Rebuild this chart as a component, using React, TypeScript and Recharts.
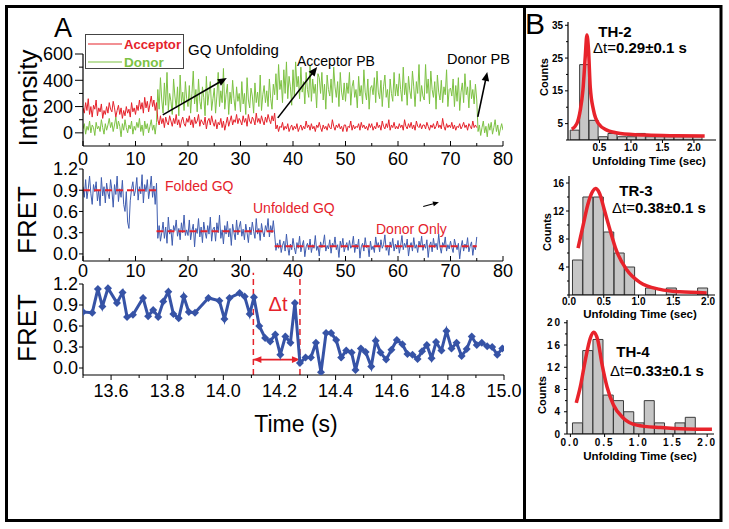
import React from 'react';
import { ComposedChart, Line, Bar, XAxis, YAxis, ReferenceLine } from 'recharts';

// ---------- panel A: raw traces (one sample every 0.25 s) ----------
const SAMPLE_DT = 0.25;

const acceptor = [
  190, 150, 230, 170, 260, 140, 200, 120, 210, 180, 250, 130, 190, 160, 220, 110, 170, 140, 200, 150,
  230, 180, 160, 240, 190, 120, 170, 210, 140, 190, 110, 170, 130, 200, 150, 180, 120, 230, 160, 190,
  140, 210, 170, 250, 180, 230, 150, 270, 190, 240, 160, 220, 280, 200, 250, 170, 230, 100, 60, 130,
  70, 110, 40, 120, 80, 60, 130, 90, 50, 110, 70, 140, 60, 100, 40, 90, 120, 70, 50, 110,
  80, 130, 60, 100, 40, 120, 70, 90, 140, 50, 100, 80, 60, 120, 30, 90, 110, 60, 130, 80,
  50, 100, 30, 80, 60, 110, 40, 90, 20, 70, 120, 50, 90, 130, 60, 100, 80, 140, 70, 110,
  90, 60, 130, 80, 110, 50, 140, 90, 70, 120, 100, 60, 150, 80, 110, 70, 130, 90, 60, 120,
  80, 140, 100, 70, 130, 90, 150, 30, 60, 10, 50, 40, 80, 20, 50, 30, 70, 10, 40, 60,
  20, 50, 30, 70, 10, 40, 60, 20, 50, 30, 90, 40, 60, 20, 70, 30, 50, 10, 60, 40,
  80, 40, 10, 60, 30, 50, 20, 70, 40, 30, 100, 50, 20, 60, 40, 70, 30, 50, 10, 60,
  60, 10, 50, 40, 90, 20, 60, 30, 50, 40, 70, 20, 80, 40, 60, 30, 50, 20, 70, 40,
  70, 20, 50, 30, 80, 40, 60, 20, 90, 50, 30, 70, 40, 100, 20, 60, 40, 80, 30, 50,
  30, 70, 40, 60, 20, 100, 50, 30, 70, 40, 80, 30, 60, 20, 90, 50, 40, 70, 30, 60,
  60, 30, 80, 50, 20, 60, 40, 70, 30, 50, 90, 40, 60, 30, 110, 50, 20, 70, 40, 60,
  40, 80, 30, 60, 20, 50, 40, 70, 30, 50, 80, 40, 60, 20, 70, 50, 30, 90, 40, 60,
  40,
];

const donor = [
  30, 70, -10, 50, 20, 90, 0, 60, 40, -20, 80, 30, 50, 10, 100, 40, -10, 70, 20, 60,
  110, 40, 80, 10, 60, 120, 30, 90, 50, -30, 70, 20, 100, 40, 0, 60, 30, 90, -10, 50,
  20, 80, 40, 110, 10, 60, -20, 90, 30, 70, 0, 50, 100, 20, 60, -10, 80, 330, 180, 420,
  250, 150, 380, 210, 460, 170, 300, 240, 140, 410, 280, 190, 350, 130, 440, 230, 310, 170, 390, 260,
  200, 360, 150, 300, 470, 220, 330, 160, 410, 240, 180, 350, 270, 130, 430, 210, 300, 390, 170, 260,
  340, 150, 280, 460, 200, 320, 230, 490, 180, 290, 370, 140, 310, 220, 400, 260, 170, 350, 240, 300,
  160, 390, 220, 300, 140, 420, 250, 190, 340, 280, 150, 380, 230, 310, 200, 440, 170, 290, 360, 230,
  320, 200, 410, 260, 180, 370, 290, 450, 250, 520, 330, 400, 230, 480, 300, 540, 260, 430, 350, 210,
  480, 280, 540, 350, 430, 260, 500, 310, 390, 220, 460, 330, 270, 510, 240, 410, 300, 370, 190, 450,
  420, 300, 460, 250, 370, 180, 440, 330, 280, 410, 230, 500, 350, 270, 390, 200, 460, 310, 250, 380,
  240, 380, 300, 460, 210, 350, 400, 270, 330, 190, 430, 280, 360, 220, 480, 310, 250, 410, 180, 340,
  360, 290, 420, 230, 470, 310, 260, 400, 200, 350, 440, 270, 330, 190, 410, 300, 240, 460, 280, 370,
  280, 450, 330, 240, 500, 290, 380, 210, 430, 320, 260, 470, 350, 200, 390, 300, 520, 240, 360, 280,
  250, 520, 300, 410, 220, 470, 330, 270, 390, 180, 440, 310, 250, 400, 230, 350, 290, 480, 200, 330,
  340, 280, 410, 200, 360, 240, 420, 170, 310, 380, 230, 450, 290, 350, 190, 400, 260, 330, 220, 370,
  250, 10, 60, -20, 40, 90, 0, 50, -30, 70, 20, 80, -10, 40, 100, 10, 60, -20, 30, 70,
  20,
];

const fretTrace = [
  0.95, 0.8, 1.05, 0.78, 0.92, 1.1, 0.85, 0.7, 0.98, 0.88, 1.02, 0.75, 0.9, 0.68, 1.08, 0.82, 0.95, 0.72, 1.0, 0.86,
  0.78, 1.05, 0.9, 0.66, 0.98, 0.84, 1.1, 0.74, 0.92, 0.8, 1.04, 0.7, 0.6, 0.88, 0.45, 0.36, 0.75, 0.92, 1.02, 0.82,
  0.9, 1.08, 0.76, 0.95, 0.85, 1.12, 0.72, 0.98, 0.88, 1.05, 0.78, 0.92, 1.1, 0.8, 0.96, 0.7, 1.0, 0.22, 0.4, 0.18,
  0.3, 0.45, 0.22, 0.38, 0.15, 0.52, 0.28, 0.35, 0.12, 0.4, 0.33, 0.48, 0.25, 0.36, 0.2, 0.44, 0.3, 0.55, 0.26, 0.34,
  0.26, 0.48, 0.2, 0.33, 0.42, 0.1, 0.36, 0.29, 0.5, 0.24, 0.38, 0.16, 0.45, 0.31, 0.22, 0.4, 0.28, 0.52, 0.18, 0.35,
  0.38, 0.18, 0.44, 0.3, 0.55, 0.22, 0.34, 0.14, 0.4, 0.28, 0.46, 0.24, 0.36, 0.12, 0.42, 0.3, 0.2, 0.48, 0.27, 0.38,
  0.46, 0.25, 0.35, 0.2, 0.42, 0.3, 0.16, 0.38, 0.27, 0.45, 0.32, 0.22, 0.5, 0.28, 0.36, 0.19, 0.43, 0.31, 0.24, 0.4,
  0.33, 0.5, 0.24, 0.4, 0.3, 0.47, 0.28, 0.05, 0.15, 0.08, 0.2, 0.02, 0.12, 0.18, 0.04, 0.28, 0.1, -0.02, 0.14, 0.06,
  0.22, 0.09, 0.0, 0.16, 0.08, 0.25, 0.03, 0.12, 0.19, -0.04, 0.1, 0.15, 0.06, 0.21, 0.02, 0.13, 0.08, 0.26, 0.05, 0.11,
  -0.03, 0.17, 0.09, 0.14, 0.27, 0.04, 0.12, 0.07, 0.2, 0.01, 0.15, 0.1, 0.24, 0.06, 0.13, -0.05, 0.18, 0.09, 0.22, 0.03,
  0.11, 0.16, 0.05, 0.19, 0.08, 0.12, 0.25, 0.02, 0.14, 0.07, 0.21, -0.06, 0.1, 0.15, 0.04, 0.23, 0.09, 0.12, -0.04, 0.18,
  0.06, 0.11, 0.02, 0.24, 0.1, 0.16, 0.03, 0.2, 0.08, 0.13, 0.27, 0.05, 0.12, -0.02, 0.17, 0.09, 0.22, 0.04, 0.14, 0.07,
  0.19, 0.01, 0.12, 0.26, 0.06, 0.15, 0.09, 0.21, -0.03, 0.11, 0.16, 0.04, 0.23, 0.08, 0.13, 0.02, 0.18, 0.1, 0.25, 0.05,
  0.14, 0.08, 0.2, -0.05, 0.12, 0.17, 0.03, 0.22, 0.09, 0.15, 0.06, 0.28, 0.1, 0.01, 0.16, 0.11, 0.24, 0.04, 0.13, 0.07,
  0.18, 0.09, 0.02, 0.21, 0.12, 0.06, 0.15, -0.07, 0.1, 0.19, 0.04, 0.14, 0.08, 0.23, 0.03, 0.11, 0.17, -0.02, 0.12, 0.06,
  0.24,
];

// fitted FRET levels (dashed red)
const levelStart = [0, 14, 36.5];
const levelEnd = [14, 36.5, 75];
const levelValue = [0.9, 0.32, 0.11];

// zoomed trace around the unfolding event
const zoomTime = [
  13.5, 13.533, 13.553, 13.569, 13.589, 13.621, 13.641, 13.657, 13.678, 13.714,
  13.732, 13.75, 13.768, 13.786, 13.804, 13.822, 13.841, 13.859, 13.877, 13.899,
  13.947, 13.986, 14.004, 14.022, 14.058, 14.076, 14.094, 14.109, 14.128, 14.149,
  14.167, 14.185, 14.203, 14.221, 14.239, 14.255, 14.273, 14.293, 14.312, 14.33,
  14.348, 14.366, 14.384, 14.402, 14.42, 14.438, 14.457, 14.471, 14.49, 14.507,
  14.527, 14.543, 14.56, 14.58, 14.599, 14.618, 14.638, 14.656, 14.674, 14.692,
  14.708, 14.725, 14.742, 14.758, 14.777, 14.795, 14.813, 14.831, 14.849, 14.867,
  14.885, 14.903, 14.921, 14.94, 14.958, 14.976, 14.994,
];
const zoomFret = [
  0.8, 0.79, 1.13, 0.88, 1.14, 0.93, 1.08, 0.73, 0.76, 1.0,
  0.74, 0.83, 0.73, 0.95, 1.09, 0.77, 0.71, 1.02, 0.8, 0.79,
  1.0, 0.96, 0.7, 1.0, 1.07, 1.02, 0.77, 1.01, 0.6, 0.43,
  0.38, 0.48, 0.19, 0.45, 0.36, 0.93, 0.07, 0.15, 0.15, 0.36,
  -0.06, 0.5, 0.5, 0.4, 0.15, 0.25, 0.22, -0.03, 0.28, 0.23,
  0.02, 0.39, 0.22, 0.12, 0.26, 0.4, 0.34, 0.2, 0.19, 0.13,
  0.24, 0.33, 0.14, 0.37, 0.25, 0.53, 0.28, 0.36, 0.17, 0.27,
  0.45, 0.33, 0.36, 0.31, 0.3, 0.19, 0.28,
];
const dtStart = 14.107;
const dtEnd = 14.273;

// annotation arrows in data units [t, value]
const intensityArrowFrom = [[15.2, 137], [37.1, 114], [75.2, 122]];
const intensityArrowTo = [[27.4, 418], [44.6, 501], [77.0, 463]];

// ---------- panel B: histograms + fits ----------
const th2Bins = [0.11, 0.26, 0.41, 0.56, 0.71, 0.86, 1.01, 1.16, 1.31, 1.46, 1.61, 1.76, 1.91, 2.06];
const th2Counts = [3, 23, 6, 1, 2, 1, 1, 2, 1, 1, 1, 1, 1, 1];
const th2FitX = [0.06, 0.14, 0.195, 0.237, 0.274, 0.3, 0.326, 0.353, 0.405, 0.484, 0.617, 0.83, 1.25, 1.72, 2.17];
const th2FitY = [3.3, 5.0, 9.1, 15.2, 25.4, 32, 27.4, 16.2, 9.1, 5.0, 3.0, 2.0, 1.5, 1.3, 1.2];

const tr3Bins = [0.125, 0.275, 0.425, 0.575, 0.725, 0.875, 1.025, 1.175, 1.325, 1.475, 1.625, 1.775, 1.925];
const tr3Counts = [5, 14, 14, 9, 6, 4, 0, 1, 0, 1, 0, 0, 1];
const tr3FitX = [0.13, 0.2, 0.27, 0.34, 0.38, 0.44, 0.51, 0.59, 0.68, 0.83, 1.02, 1.31, 1.59, 1.98];
const tr3FitY = [6.7, 9.8, 12.9, 14.8, 15.2, 14.5, 12.1, 9.3, 6.4, 3.6, 1.8, 0.8, 0.45, 0.3];

const th4Bins = [0.105, 0.255, 0.405, 0.555, 0.705, 0.855, 1.005, 1.155, 1.305, 1.455, 1.605, 1.755, 1.905];
const th4Counts = [2, 15, 17, 7, 6, 4, 2, 6, 2, 1, 2, 3, 0];
const th4FitX = [0.086, 0.145, 0.218, 0.29, 0.34, 0.4, 0.46, 0.535, 0.63, 0.78, 0.97, 1.32, 1.71, 2.07];
const th4FitY = [5.6, 8.5, 13.3, 17.2, 18.3, 16.9, 12.7, 8.5, 5.2, 2.8, 1.6, 1.15, 0.9, 0.85];

// ---------- ticks ----------
const intensityTicks = [0, 100, 200, 300, 400, 500, 600];
const timeTicks = [0, 5, 10, 15, 20, 25, 30, 35, 40, 45, 50, 55, 60, 65, 70, 75, 80];
const fretTicks = [0, 0.3, 0.6, 0.9, 1.2];
const zoomTicks = [13.5, 13.6, 13.7, 13.8, 13.9, 14.0, 14.1, 14.2, 14.3, 14.4, 14.5, 14.6, 14.7, 14.8, 14.9, 15.0];
const th2YTicks = [0, 5, 10, 15, 20, 25, 30, 35];
const th2XTicks = [0.5, 1.0, 1.5, 2.0];
const tr3YTicks = [0, 2, 4, 6, 8, 10, 12, 14, 16];
const th4YTicks = [0, 2, 4, 6, 8, 10, 12, 14, 16, 18, 20];
const histXTicks = [0, 0.5, 1.0, 1.5, 2.0];

const FONT = '"Liberation Sans", Arial, Helvetica, sans-serif';
const RED = '#e5222b';
const GREEN = '#7dc243';
const BLUE = '#3653a6';
const FRET_BLUE = '#3f5db0';

const every = (step: number) => (v: number) => Math.abs(v / step - Math.round(v / step)) < 1e-6;

type TickOpts = {
  major: number;
  minor: number;
  gap?: number;
  off?: number;
  fs: number;
  fw?: number | string;
  ls?: number;
  inward?: boolean;
  isMajor: (v: number) => boolean;
  fmt: (v: number) => string;
};

const yTick = (o: TickOpts) => (p: any) => {
  const v = p.payload.value;
  const big = o.isMajor(v);
  return (
    <g key={`yt${p.index}`}>
      <line x1={p.x} x2={p.x - (big ? o.major : o.minor)} y1={p.y} y2={p.y} stroke="#000" strokeWidth={1} />
      {big && (
        <text x={p.x - o.major - (o.gap ?? 2)} y={p.y} dy="0.36em" textAnchor="end" fontSize={o.fs}
          fontWeight={o.fw ?? 'normal'} letterSpacing={o.ls ?? 0} fontFamily={FONT} fill="#000">
          {o.fmt(v)}
        </text>
      )}
    </g>
  );
};

const xTick = (o: TickOpts) => (p: any) => {
  const v = p.payload.value;
  const big = o.isMajor(v);
  const dir = o.inward ? -1 : 1;
  return (
    <g key={`xt${p.index}`}>
      <line x1={p.x} x2={p.x} y1={p.y} y2={p.y + dir * (big ? o.major : o.minor)} stroke="#000" strokeWidth={1} />
      {big && (
        <text x={p.x} y={p.y + (o.off ?? 12)} dy="0.36em" textAnchor="middle" fontSize={o.fs}
          fontWeight={o.fw ?? 'normal'} letterSpacing={o.ls ?? 0} fontFamily={FONT} fill="#000">
          {o.fmt(v)}
        </text>
      )}
    </g>
  );
};

const arrowShape = (color: string, width: number, head: number, both = false) => (p: any) => {
  const { x1, y1, x2, y2 } = p;
  const a = Math.atan2(y2 - y1, x2 - x1);
  const tip = (x: number, y: number, ang: number) => {
    const bx = x - head * Math.cos(ang);
    const by = y - head * Math.sin(ang);
    const w = head * 0.42;
    return `${x},${y} ${bx + w * Math.sin(ang)},${by - w * Math.cos(ang)} ${bx - w * Math.sin(ang)},${by + w * Math.cos(ang)}`;
  };
  return (
    <g>
      <line x1={x1} y1={y1} x2={x2 - head * 0.8 * Math.cos(a)} y2={y2 - head * 0.8 * Math.sin(a)} stroke={color} strokeWidth={width} />
      <polygon points={tip(x2, y2, a)} fill={color} />
      {both && <polygon points={tip(x1, y1, a + Math.PI)} fill={color} />}
    </g>
  );
};

const Diamond = (p: any) => {
  const { cx, cy, index } = p;
  if (cx == null || cy == null) return <g key={`d${index}`} />;
  const r = 4;
  return <path key={`d${index}`} d={`M${cx},${cy - r}L${cx + r},${cy}L${cx},${cy + r}L${cx - r},${cy}Z`} fill={BLUE} />;
};

const intensityData = donor.map((d, i) => ({
  t: i * SAMPLE_DT,
  don: d,
  acc: i < acceptor.length ? acceptor[i] : null,
}));
const fretData = fretTrace.map((v, i) => ({ t: i * SAMPLE_DT, fret: v }));
const zoomData = zoomTime.map((t, i) => ({ t, fret: zoomFret[i] }));

const axisLine = { stroke: '#000', strokeWidth: 1.2 };

type HistProps = {
  top: number;
  height: number;
  margin: { top: number; left: number; right: number; bottom: number };
  bins: number[];
  counts: number[];
  fitX: number[];
  fitY: number[];
  xDomain: [number, number];
  yDomain: [number, number];
  yTicks: number[];
  xTicks: number[];
  yMajor: (v: number) => boolean;
  ls?: number;
  xOff: number;
};

const Histogram = (h: HistProps) => {
  const data = h.bins.map((x, i) => ({ x, n: h.counts[i] }));
  const fit = h.fitX.map((x, i) => ({ fx: x, fit: h.fitY[i] }));
  return (
    <div style={{ position: 'absolute', left: 525, top: h.top }}>
      <ComposedChart width={200} height={h.height} data={data} margin={h.margin} barCategoryGap={0} barGap={0}>
        <XAxis type="number" dataKey="x" domain={h.xDomain} allowDataOverflow ticks={h.xTicks} interval={0}
          tickSize={0} tickMargin={0} tickLine={false} axisLine={axisLine} height={18}
          tick={xTick({ major: 3, minor: 2, off: h.xOff, fs: 10, fw: 'bold', ls: h.ls, isMajor: () => true, fmt: (v) => v.toFixed(1) })} />
        <XAxis xAxisId="fit" type="number" dataKey="fx" domain={h.xDomain} allowDataOverflow hide />
        <YAxis type="number" domain={h.yDomain} allowDataOverflow ticks={h.yTicks} interval={0} width={22}
          tickSize={0} tickMargin={0} tickLine={false} axisLine={axisLine}
          tick={yTick({ major: 3, minor: 2, gap: 2, fs: 10, fw: 'bold', ls: h.ls, isMajor: h.yMajor, fmt: (v) => String(v) })} />
        <Bar dataKey="n" fill="#c6c6c6" stroke="#3a3a3a" strokeWidth={1} isAnimationActive={false} />
        <Line xAxisId="fit" data={fit} dataKey="fit" type="monotone" stroke="#e8232b" strokeWidth={3.5} dot={false} isAnimationActive={false} />
      </ComposedChart>
    </div>
  );
};

const Rot = ({ x, y, fs, fw, children }: { x: number; y: number; fs: number; fw?: string; children: React.ReactNode }) => (
  <text transform={`translate(${x},${y}) rotate(-90)`} textAnchor="middle" dy="0.35em" fontSize={fs} fontWeight={fw ?? 'normal'} fontFamily={FONT} fill="#000">
    {children}
  </text>
);

export default function App() {
  return (
    <div style={{ position: 'absolute', left: 0, top: 0, width: 729, height: 529, background: '#fff', fontFamily: FONT }}>
      {/* intensity */}
      <div style={{ position: 'absolute', left: 0, top: 0 }}>
        <ComposedChart width={525} height={170} data={intensityData} margin={{ top: 54, right: 22, left: 23, bottom: 0 }}>
          <XAxis type="number" dataKey="t" domain={[0, 80]} allowDataOverflow ticks={timeTicks} interval={0}
            tickSize={0} tickMargin={0} tickLine={false} axisLine={axisLine} height={24}
            tick={xTick({ major: 5, minor: 3, inward: true, off: 13, fs: 18, isMajor: every(10), fmt: (v) => String(v) })} />
          <YAxis type="number" domain={[-100, 600]} allowDataOverflow ticks={intensityTicks} interval={0} width={60}
            tickSize={0} tickMargin={0} tickLine={false} axisLine={axisLine}
            tick={yTick({ major: 8, minor: 4, gap: 2, fs: 18, isMajor: every(200), fmt: (v) => String(v) })} />
          <Line dataKey="don" stroke={GREEN} strokeWidth={1} dot={false} isAnimationActive={false} />
          <Line dataKey="acc" stroke={RED} strokeWidth={1} dot={false} isAnimationActive={false} />
          {intensityArrowFrom.map((f, i) => (
            <ReferenceLine key={`ia${i}`} ifOverflow="visible"
              segment={[{ x: f[0], y: f[1] }, { x: intensityArrowTo[i][0], y: intensityArrowTo[i][1] }]}
              shape={arrowShape('#000', 1.6, 9)} />
          ))}
        </ComposedChart>
      </div>

      {/* FRET full trace */}
      <div style={{ position: 'absolute', left: 0, top: 150 }}>
        <ComposedChart width={525} height={131} data={fretData} margin={{ top: 19, right: 22, left: 23, bottom: 0 }}>
          <XAxis type="number" dataKey="t" domain={[0, 80]} allowDataOverflow ticks={timeTicks} interval={0}
            tickSize={0} tickMargin={0} tickLine={false} axisLine={axisLine} height={20}
            tick={xTick({ major: 5, minor: 3, inward: true, off: 10, fs: 18, isMajor: every(10), fmt: (v) => String(v) })} />
          <YAxis type="number" domain={[-0.1, 1.2]} allowDataOverflow ticks={fretTicks} interval={0} width={60}
            tickSize={0} tickMargin={0} tickLine={false} axisLine={axisLine}
            tick={yTick({ major: 4, minor: 2, gap: 1, fs: 18, isMajor: () => true, fmt: (v) => v.toFixed(1) })} />
          <Line dataKey="fret" stroke={FRET_BLUE} strokeWidth={1} dot={false} isAnimationActive={false} />
          {levelValue.map((lv, i) => (
            <ReferenceLine key={`lv${i}`} ifOverflow="visible" segment={[{ x: levelStart[i], y: lv }, { x: levelEnd[i], y: lv }]}
              stroke={RED} strokeWidth={2} strokeDasharray="7 4" />
          ))}
          <ReferenceLine ifOverflow="visible" segment={[{ x: 64.8, y: 0.67 }, { x: 67.8, y: 0.73 }]} shape={arrowShape('#000', 1.2, 6)} />
        </ComposedChart>
      </div>

      {/* FRET zoom */}
      <div style={{ position: 'absolute', left: 0, top: 270 }}>
        <ComposedChart width={525} height={135} data={zoomData} margin={{ top: 14, right: 21, left: 23, bottom: 0 }}>
          <XAxis type="number" dataKey="t" domain={[13.5, 15.0]} allowDataOverflow ticks={zoomTicks} interval={0}
            tickSize={0} tickMargin={0} tickLine={false} axisLine={axisLine} height={30}
            tick={xTick({ major: 5, minor: 3, off: 16, fs: 18, isMajor: every(0.2), fmt: (v) => v.toFixed(1) })} />
          <YAxis type="number" domain={[-0.1, 1.2]} allowDataOverflow ticks={fretTicks} interval={0} width={60}
            tickSize={0} tickMargin={0} tickLine={false} axisLine={axisLine}
            tick={yTick({ major: 4, minor: 2, gap: 1, fs: 18, isMajor: () => true, fmt: (v) => v.toFixed(1) })} />
          <ReferenceLine ifOverflow="visible" segment={[{ x: dtStart, y: -0.1 }, { x: dtStart, y: 1.36 }]} stroke={RED} strokeWidth={1.5} strokeDasharray="6 4" />
          <ReferenceLine ifOverflow="visible" segment={[{ x: dtEnd, y: -0.1 }, { x: dtEnd, y: 1.36 }]} stroke={RED} strokeWidth={1.5} strokeDasharray="6 4" />
          <ReferenceLine ifOverflow="visible" segment={[{ x: dtStart, y: 0.12 }, { x: dtEnd, y: 0.12 }]} shape={arrowShape(RED, 1.8, 8, true)} />
          <Line dataKey="fret" stroke={BLUE} strokeWidth={3} dot={Diamond} isAnimationActive={false} />
        </ComposedChart>
      </div>

      <Histogram top={0} height={158} margin={{ top: 22, left: 21, right: 9, bottom: 0 }}
        bins={th2Bins} counts={th2Counts} fitX={th2FitX} fitY={th2FitY}
        xDomain={[0, 2.35]} yDomain={[0, 36]} yTicks={th2YTicks} xTicks={th2XTicks}
        yMajor={(v) => v % 10 === 5} xOff={7} />
      <Histogram top={160} height={153} margin={{ top: 16, left: 22, right: 10, bottom: 0 }}
        bins={tr3Bins} counts={tr3Counts} fitX={tr3FitX} fitY={tr3FitY}
        xDomain={[0, 2.1]} yDomain={[0, 17]} yTicks={tr3YTicks} xTicks={histXTicks}
        yMajor={(v) => v > 0 && v % 4 === 0} xOff={6} />
      <Histogram top={300} height={152} margin={{ top: 20, left: 20, right: 11, bottom: 0 }}
        bins={th4Bins} counts={th4Counts} fitX={th4FitX} fitY={th4FitY}
        xDomain={[-0.05, 2.1]} yDomain={[0, 20.5]} yTicks={th4YTicks} xTicks={histXTicks}
        yMajor={(v) => v % 4 === 0} ls={2} xOff={8} />

      {/* frame, titles, annotations */}
      <svg width={729} height={529} style={{ position: 'absolute', left: 0, top: 0, pointerEvents: 'none' }} fontFamily={FONT}>
        <rect x={6.5} y={6.5} width={714.5} height={514} fill="none" stroke="#000" strokeWidth={3} />
        <line x1={524.5} x2={524.5} y1={6.5} y2={520.5} stroke="#000" strokeWidth={3} />

        <text x={63} y={37} fontSize={27} textAnchor="middle">A</text>
        <text x={535} y={34} fontSize={30} textAnchor="middle">B</text>

        <Rot x={28} y={98} fs={26}>Intensity</Rot>
        <Rot x={27} y={220} fs={26}>FRET</Rot>
        <Rot x={27} y={328} fs={26}>FRET</Rot>
        <text x={296} y={432} fontSize={23} textAnchor="middle">Time (s)</text>

        <rect x={85.5} y={34.5} width={98} height={34} fill="none" stroke="#444" strokeWidth={1} />
        <line x1={88} x2={122} y1={44} y2={44} stroke={RED} strokeWidth={1.2} />
        <line x1={88} x2={122} y1={62} y2={62} stroke={GREEN} strokeWidth={1.2} />
        <text x={124} y={49} fontSize={13.5} fontWeight="bold" fill={RED} textLength={57} lengthAdjust="spacingAndGlyphs">Acceptor</text>
        <text x={124} y={67} fontSize={13.5} fontWeight="bold" fill={GREEN}>Donor</text>

        <text x={188} y={55} fontSize={15}>GQ Unfolding</text>
        <text x={297} y={66} fontSize={14}>Acceptor PB</text>
        <text x={447} y={64} fontSize={14.5}>Donor PB</text>

        <text x={165} y={191} fontSize={14} fill={RED}>Folded GQ</text>
        <text x={253} y={213} fontSize={14} fill={RED}>Unfolded GQ</text>
        <text x={376} y={234} fontSize={14} fill={RED}>Donor Only</text>
        <text x={278} y={311} fontSize={20} fill={RED} textAnchor="middle">Δt</text>

        <text x={615} y={37} fontSize={15} fontWeight="bold" textAnchor="middle">TH-2</text>
        <text x={593} y={53} fontSize={15}>Δt=<tspan fontWeight="bold">0.29±0.1 s</tspan></text>
        <Rot x={544} y={77} fs={11} fw="bold">Counts</Rot>
        <text x={649} y={165} fontSize={11.5} fontWeight="bold" textAnchor="middle">Unfolding Time (sec)</text>

        <text x={636} y={196} fontSize={15} fontWeight="bold" textAnchor="middle">TR-3</text>
        <text x={612} y={213} fontSize={15}>Δt=<tspan fontWeight="bold">0.38±0.1 s</tspan></text>
        <Rot x={547} y={232} fs={11} fw="bold">Counts</Rot>
        <text x={640} y={318} fontSize={11.5} fontWeight="bold" textAnchor="middle">Unfolding Time (sec)</text>

        <text x={633} y={357} fontSize={15} fontWeight="bold" textAnchor="middle">TH-4</text>
        <text x={610} y={376} fontSize={15}>Δt=<tspan fontWeight="bold">0.33±0.1 s</tspan></text>
        <Rot x={542} y={395} fs={11} fw="bold">Counts</Rot>
        <text x={640} y={460} fontSize={11.5} fontWeight="bold" textAnchor="middle">Unfolding Time (sec)</text>
      </svg>
    </div>
  );
}
